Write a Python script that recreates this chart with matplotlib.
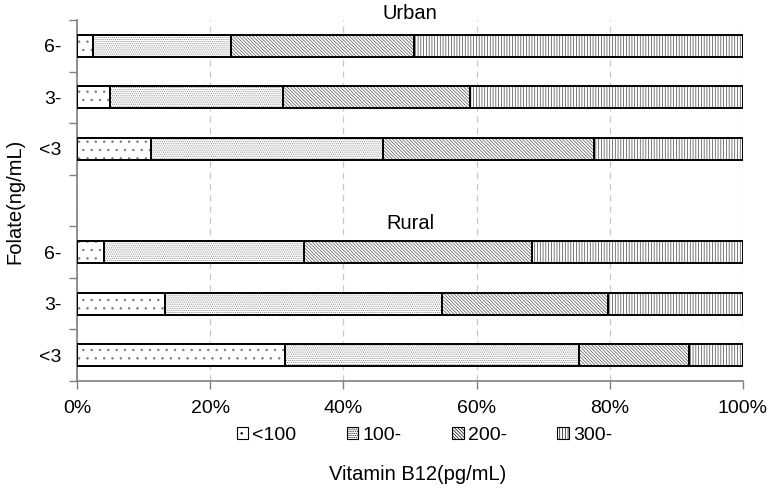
import numpy as np
import matplotlib
matplotlib.use("Agg")
import matplotlib.pyplot as plt
from matplotlib.patches import Patch

plt.rcParams['font.family'] = ['Liberation Sans', 'DejaVu Sans']
plt.rcParams['hatch.linewidth'] = 0.5

# --- Data (percent of each folate group by vitamin B12 level) ---
b12_levels = ['<100', '100-', '200-', '300-']
folate_labels = ['<3', '3-', '6-']

rural_lt3 = [31.2, 44.2, 16.5, 8.1]
rural_3 = [13.2, 41.6, 24.9, 20.3]
rural_6 = [4.1, 30.0, 34.2, 31.7]
urban_lt3 = [11.1, 34.8, 31.7, 22.4]
urban_3 = [5.0, 25.9, 28.1, 41.0]
urban_6 = [2.4, 20.7, 27.5, 49.4]

# bottom to top, with one empty slot between the two groups
rows = [rural_lt3, rural_3, rural_6, None, urban_lt3, urban_3, urban_6]
row_labels = folate_labels + [''] + folate_labels

hatches = ['..', '........', '\\' * 10, '|' * 6]
hatch_colors = ['#777777', '#888888', '#555555', '#444444']

fig = plt.figure(figsize=(7.77, 5.03), dpi=100)
ax = fig.add_axes([0.0991, 0.2425, 0.8571, 0.7177])

for y, vals in enumerate(rows):
    if vals is None:
        continue
    left = 0.0
    for v, h, hc in zip(vals, hatches, hatch_colors):
        ax.barh(y, v, left=left, height=0.43, color='white', hatch=h,
                edgecolor=hc, linewidth=0, zorder=2)
        ax.barh(y, v, left=left, height=0.43, color='none',
                edgecolor='black', linewidth=1.4, zorder=3)
        left += v

ax.set_xlim(0, 100)
ax.set_ylim(-0.5, len(rows) - 0.5)

# x axis
ax.set_xticks(np.arange(0, 101, 20))
ax.set_xticklabels([f'{x}%' for x in range(0, 101, 20)])
ax.xaxis.grid(True, linestyle=(0, (5, 4)), color='#c8c8c8', linewidth=0.9, zorder=0)

# y axis: ticks between bars, labels on bar centres
ax.set_yticks(np.arange(-0.5, len(rows), 1.0))
ax.set_yticklabels([])
ax.set_yticks(np.arange(len(rows)), minor=True)
ax.set_yticklabels(row_labels, minor=True)
ax.tick_params(axis='y', which='minor', length=0, pad=11)
ax.tick_params(axis='both', which='major', length=6, color='#808080', width=1.0)
ax.tick_params(axis='both', which='both', labelsize=14)
ax.tick_params(axis='x', pad=8)

for side in ['top', 'right']:
    ax.spines[side].set_visible(False)
for side in ['left', 'bottom']:
    ax.spines[side].set_color('#808080')
    ax.spines[side].set_linewidth(1.2)

ax.text(50, 6.63, 'Urban', ha='center', va='center', fontsize=14.5)
ax.text(50, 2.56, 'Rural', ha='center', va='center', fontsize=14.5)

fig.text(0.019, 0.60, 'Folate(ng/mL)', rotation=90, ha='center', va='center', fontsize=14.5)
fig.text(0.538, 0.056, 'Vitamin B12(pg/mL)', ha='center', va='center', fontsize=14.5)

handles = [Patch(facecolor='white', edgecolor='black', hatch=h, linewidth=0.8)
           for h in hatches]
fig.legend(handles, b12_levels, loc='center', bbox_to_anchor=(0.546, 0.135),
           ncol=4, frameon=False, fontsize=14, handlelength=0.6, handleheight=0.6,
           handletextpad=0.2, columnspacing=2.6)

fig.savefig('out.png', dpi=100)
